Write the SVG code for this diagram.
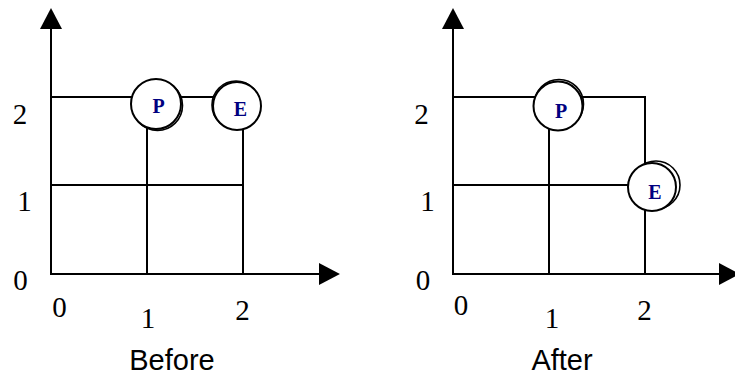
<svg xmlns="http://www.w3.org/2000/svg" width="735" height="379" viewBox="0 0 735 379">
<defs>
<style>
.ln{stroke:#000;stroke-width:2;fill:none}
.c{stroke:#000;stroke-width:2;fill:#fff}
.c2{stroke:#000;stroke-width:1.6;fill:none}
.num{font-family:"Liberation Serif","Times New Roman",serif;font-size:29px;fill:#000;text-anchor:middle}
.cap{font-family:"Liberation Sans",Arial,sans-serif;font-size:29px;fill:#000;text-anchor:middle}
.lab{font-family:"Liberation Serif","Times New Roman",serif;font-size:20px;font-weight:bold;fill:#000080;text-anchor:middle}
</style>
<marker id="ah" markerUnits="userSpaceOnUse" markerWidth="22" markerHeight="22" refX="0" refY="10.5" orient="auto" viewBox="0 0 20 21">
<polygon points="0,0 20,10.5 0,21" fill="#000"/>
</marker>
</defs>
<g id="connectors">
<line class="ln" x1="51" y1="275" x2="51" y2="29" marker-end="url(#ah)"/>
<line class="ln" x1="50" y1="274" x2="319" y2="274" marker-end="url(#ah)"/>
<line class="ln" x1="51" y1="97" x2="237" y2="97"/>
<line class="ln" x1="51" y1="185" x2="243" y2="185"/>
<line class="ln" x1="147" y1="274" x2="147" y2="110"/>
<line class="ln" x1="243" y1="274" x2="243" y2="110"/>
<line class="ln" x1="453" y1="275" x2="453" y2="29" marker-end="url(#ah)"/>
<line class="ln" x1="452" y1="274" x2="719" y2="274" marker-end="url(#ah)"/>
<polyline class="ln" points="453,97 645,97 645,274"/>
<line class="ln" x1="453" y1="185" x2="650" y2="185"/>
<line class="ln" x1="549" y1="274" x2="549" y2="110"/>
</g>
<g id="before-P">
<circle class="c2" cx="157.5" cy="105.5" r="25"/>
<circle class="c" cx="156" cy="104" r="25"/>
<text class="lab" x="158.5" y="113">P</text>
</g>
<g id="before-E">
<circle class="c2" cx="236" cy="105" r="24"/>
<circle class="c" cx="237" cy="106" r="24"/>
<text class="lab" x="240.5" y="116">E</text>
</g>
<g id="after-P">
<circle class="c2" cx="559" cy="104" r="24.5"/>
<circle class="c" cx="558" cy="106" r="24.5"/>
<text class="lab" x="561" y="118">P</text>
</g>
<g id="after-E">
<circle class="c2" cx="656" cy="185" r="24"/>
<circle class="c" cx="652" cy="187" r="24"/>
<text class="lab" x="655" y="199">E</text>
</g>
<g id="labels">
<text class="num" x="20" y="124">2</text>
<text class="num" x="24.5" y="211">1</text>
<text class="num" x="20.5" y="290">0</text>
<text class="num" x="59.5" y="317">0</text>
<text class="num" x="148" y="328">1</text>
<text class="num" x="242.5" y="320">2</text>
<text class="cap" x="172" y="370">Before</text>
<text class="num" x="421.5" y="124">2</text>
<text class="num" x="427.5" y="211">1</text>
<text class="num" x="423" y="290">0</text>
<text class="num" x="461" y="315">0</text>
<text class="num" x="552" y="328">1</text>
<text class="num" x="644.5" y="320">2</text>
<text class="cap" x="562" y="370">After</text>
</g>
</svg>
